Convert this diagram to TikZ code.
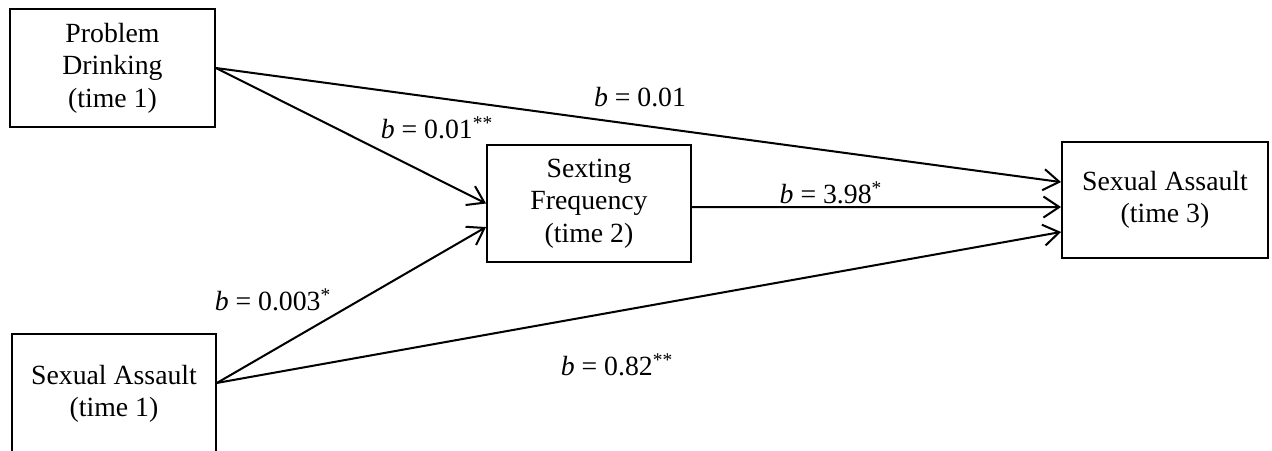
\documentclass[tikz,border=0pt]{standalone}
\usepackage{fontspec}
\setmainfont{Liberation Serif}
\usetikzlibrary{arrows.meta,positioning}

\tikzset{
  box/.style={draw,line width=1.1pt,align=center,inner sep=0pt,
    font=\fontsize{15.8}{18.5}\selectfont},
  link/.style={line width=1.15pt,-{Straight Barb[length=9pt,width=12pt,line width=1.15pt]}},
  coef/.style={inner sep=0pt,font=\fontsize{15.8}{18.5}\selectfont}
}

\begin{document}
\begin{tikzpicture}[x=0.02cm,y=-0.02cm]
\useasboundingbox (0,0) rectangle (1272,450);

% variables
\node[box,minimum width=4.1cm,minimum height=2.36cm] (drink1) at (112.5,68) {Problem\\Drinking\\(time 1)};
\node[box,minimum width=4.08cm,minimum height=2.4cm] (assault1) at (114,394) {Sexual Assault\\(time 1)};
\node[box,minimum width=4.08cm,minimum height=2.34cm] (sext2) at (589,203.5) {Sexting\\Frequency\\(time 2)};
\node[box,minimum width=4.12cm,minimum height=2.32cm] (assault3) at (1165,200) {Sexual Assault\\(time 3)};

% paths
\draw[link] (drink1.east) -- ([yshift=10.2pt]assault3.west);
\draw[link] (drink1.east) -- (sext2.west);
\draw[link] ([yshift=-2pt]sext2.east) -- ([yshift=-4pt]assault3.west);
\draw[link] ([yshift=6.3pt]assault1.east) -- ([yshift=-13.4pt]sext2.west);
\draw[link] ([yshift=6.3pt]assault1.east) -- ([yshift=-18.2pt]assault3.west);

% coefficients
\node[coef] (c1) at (640,97) {\textit{b} = 0.01};
\node[coef] (c2) at (437,128) {\textit{b} = 0.01\textsuperscript{**}};
\node[coef] (c3) at (831,193) {\textit{b} = 3.98\textsuperscript{*}};
\node[coef] (c4) at (273,300) {\textit{b} = 0.003\textsuperscript{*}};
\node[coef] (c5) at (617,365) {\textit{b} = 0.82\textsuperscript{**}};
\end{tikzpicture}
\end{document}
